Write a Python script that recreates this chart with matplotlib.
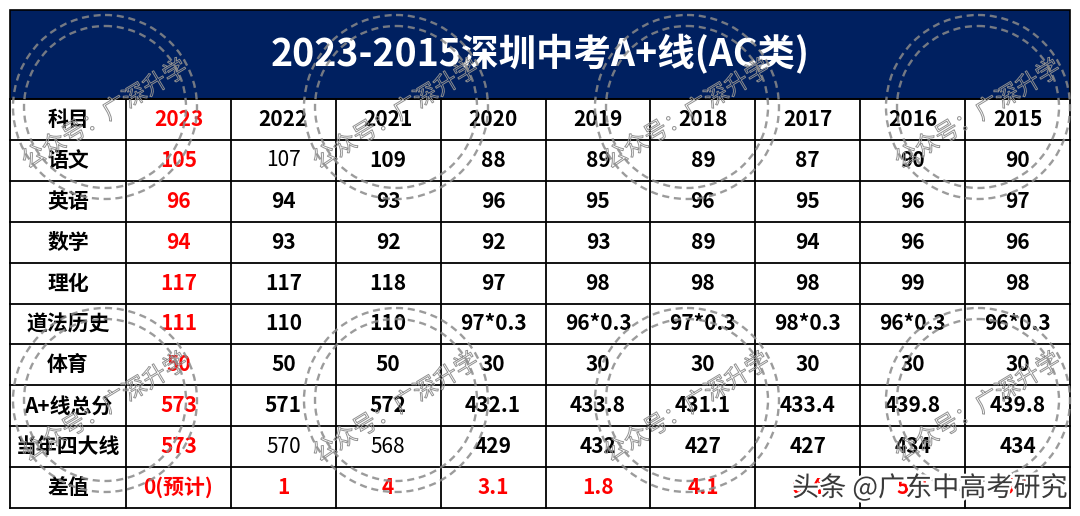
import matplotlib
matplotlib.use('Agg')
import matplotlib.pyplot as plt
import matplotlib.patches as mpatches
import matplotlib.patheffects as pe
import numpy as np

plt.rcParams['font.family'] = ['Noto Sans CJK SC', 'DejaVu Sans']

# table data
title = '2023-2015深圳中考A+线(AC类)'
years = ['2023', '2022', '2021', '2020', '2019', '2018', '2017', '2016', '2015']
subjects = ['语文', '英语', '数学', '理化', '道法历史', '体育', 'A+线总分', '当年四大线', '差值']

chinese = ['105', '107', '109', '88', '89', '89', '87', '90', '90']
english = ['96', '94', '93', '96', '95', '96', '95', '96', '97']
maths = ['94', '93', '92', '92', '93', '89', '94', '96', '96']
phys_chem = ['117', '117', '118', '97', '98', '98', '98', '99', '98']
politics_history = ['111', '110', '110', '97*0.3', '96*0.3', '97*0.3', '98*0.3', '96*0.3', '96*0.3']
sports = ['50', '50', '50', '30', '30', '30', '30', '30', '30']
a_plus_total = ['573', '571', '572', '432.1', '433.8', '431.1', '433.4', '439.8', '439.8']
top4_line = ['573', '570', '568', '429', '432', '427', '427', '434', '434']
difference = ['0(预计)', '1', '4', '3.1', '1.8', '4.1', '6.4', '5.8', '5.8']

rows = [chinese, english, maths, phys_chem, politics_history, sports,
        a_plus_total, top4_line, difference]
# cells drawn in regular weight (row, col in value grid)
light_cells = [(0, 1), (7, 1), (7, 2)]

NAVY = '#002060'
RED = '#FF0000'

fig = plt.figure(figsize=(10.8, 5.16), dpi=100)
ax = fig.add_axes([0, 0, 1, 1])
ax.set_xlim(0, 1080)
ax.set_ylim(516, 0)
ax.axis('off')

left, right = 10, 1070
first_w = 116
col_edges = np.r_[left, np.linspace(left + first_w, right, len(years) + 1)]
top, band_bottom, row_h = 10, 99, 40.9
row_edges = band_bottom + row_h * np.arange(len(subjects) + 2)
col_mid = (col_edges[:-1] + col_edges[1:]) / 2
row_mid = (row_edges[:-1] + row_edges[1:]) / 2

# title band
ax.add_patch(mpatches.Rectangle((left, top), right - left, band_bottom - top,
                                facecolor=NAVY, edgecolor='black', lw=1.2))
ax.text((left + right) / 2, (top + band_bottom) / 2, title, color='white',
        fontsize=27, fontweight='bold', ha='center', va='center')

# grid
for x in col_edges:
    ax.plot([x, x], [row_edges[0], row_edges[-1]], color='black', lw=1.3)
for y in row_edges:
    ax.plot([left, right], [y, y], color='black', lw=1.3)

fs = 15
# header row
ax.text(col_mid[0], row_mid[0], '科目', fontsize=fs, fontweight='bold', ha='center', va='center')
for j, yr in enumerate(years):
    ax.text(col_mid[j + 1], row_mid[0], yr, fontsize=fs, fontweight='bold',
            color=RED if j == 0 else 'black', ha='center', va='center')

# body
for i, (name, vals) in enumerate(zip(subjects, rows)):
    ax.text(col_mid[0], row_mid[i + 1], name, fontsize=fs, fontweight='bold',
            ha='center', va='center')
    for j, v in enumerate(vals):
        red = j == 0 or i == len(subjects) - 1
        w = 'normal' if (i, j) in light_cells else 'bold'
        ax.text(col_mid[j + 1], row_mid[i + 1], v, fontsize=fs, fontweight=w,
                color=RED if red else 'black', ha='center', va='center')

# circular stamp watermarks
stamp_x = [105, 396, 687, 978]
stamp_y = [107, 400]
for sy in stamp_y:
    for sx in stamp_x:
        for r in (92, 81):
            ax.add_patch(mpatches.Circle((sx, sy), r, fill=False, edgecolor='#8a8a8a',
                                         lw=1.7, linestyle=(0, (3, 2)), alpha=0.85, zorder=5))
        t = ax.text(sx, sy + 8, '公众号：广深升学', fontsize=17, color='none', rotation=31,
                    ha='center', va='center', rotation_mode='anchor', zorder=6)
        t.set_path_effects([pe.Stroke(linewidth=0.7, foreground='#8f8f8f')])

# platform watermark
ax.text(1068, 488, '头条 @广东中高考研究', fontsize=19.5, color='#3a3a3a',
        ha='right', va='center', zorder=7,
        path_effects=[pe.withStroke(linewidth=3.5, foreground='white')])

fig.savefig('out.png', dpi=100)
